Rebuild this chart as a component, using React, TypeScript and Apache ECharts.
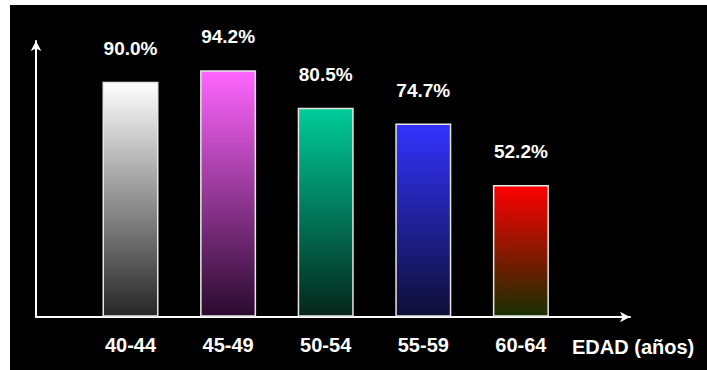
import React, { useEffect, useRef } from "react";
import * as echarts from "echarts";

const categories = ["40-44", "45-49", "50-54", "55-59", "60-64"];
const values = [90.0, 94.2, 80.5, 74.7, 52.2];
const xAxisTitle = "EDAD (años)";

const gradientStops: [string, string][] = [
  ["#ffffff", "#262626"],
  ["#ff66ff", "#2a0a2e"],
  ["#00cc99", "#04261a"],
  ["#3333ff", "#0e0e36"],
  ["#ff0000", "#163000"],
];

export default function App() {
  const ref = useRef<HTMLDivElement>(null);
  useEffect(() => {
    if (!ref.current) return;
    const chart = echarts.init(ref.current, undefined, { renderer: "svg" });
    const labelFont = "'Liberation Sans', Arial, sans-serif";
    chart.setOption({
      animation: false,
      backgroundColor: "#000000",
      grid: [
        { left: 71.7, top: 49.5, width: 488, height: 261.5 },
        { left: 26, top: 36, width: 594, height: 276 },
      ],
      xAxis: [
        {
          type: "category",
          gridIndex: 0,
          data: categories,
          axisLine: { show: false },
          axisTick: { show: false },
          axisLabel: {
            color: "#ffffff",
            fontFamily: labelFont,
            fontWeight: "bold",
            fontSize: 20,
            margin: 19,
          },
        },
        {
          type: "value",
          gridIndex: 1,
          min: 0,
          max: 1,
          axisLine: {
            show: true,
            symbol: ["none", "arrow"],
            symbolSize: [8, 10],
            lineStyle: { color: "#ffffff", width: 2 },
          },
          axisTick: { show: false },
          axisLabel: { show: false },
          splitLine: { show: false },
        },
      ],
      yAxis: [
        {
          type: "value",
          gridIndex: 0,
          min: 4.2,
          max: 100,
          show: false,
        },
        {
          type: "value",
          gridIndex: 1,
          min: 0,
          max: 1,
          axisLine: {
            show: true,
            symbol: ["none", "arrow"],
            symbolSize: [8, 10],
            lineStyle: { color: "#ffffff", width: 2 },
          },
          axisTick: { show: false },
          axisLabel: { show: false },
          splitLine: { show: false },
        },
      ],
      series: [
        {
          type: "bar",
          xAxisIndex: 0,
          yAxisIndex: 0,
          barWidth: 56,
          data: values.map((v, i) => ({
            value: v,
            itemStyle: {
              color: new echarts.graphic.LinearGradient(0, 0, 0, 1, [
                { offset: 0, color: gradientStops[i][0] },
                { offset: 1, color: gradientStops[i][1] },
              ]),
              borderColor: "#e6e6e6",
              borderWidth: 1.5,
            },
          })),
          label: {
            show: true,
            position: "top",
            distance: 24,
            color: "#ffffff",
            fontFamily: labelFont,
            fontWeight: "bold",
            fontSize: 19,
            formatter: (p: any) => p.value.toFixed(1) + "%",
          },
        },
      ],
      graphic: [
        {
          type: "text",
          x: 562,
          y: 342,
          style: {
            text: xAxisTitle,
            fill: "#ffffff",
            fontFamily: labelFont,
            fontWeight: "bold",
            fontSize: 20,
            verticalAlign: "middle",
            align: "left",
          },
        },
      ],
    });
    return () => chart.dispose();
  }, []);
  return (
    <div style={{ position: "absolute", left: 0, top: 0, width: 707, height: 370, background: "#ffffff", overflow: "hidden" }}>
      <div ref={ref} style={{ position: "absolute", left: 10, top: 5, width: 697, height: 365 }} />
    </div>
  );
}
